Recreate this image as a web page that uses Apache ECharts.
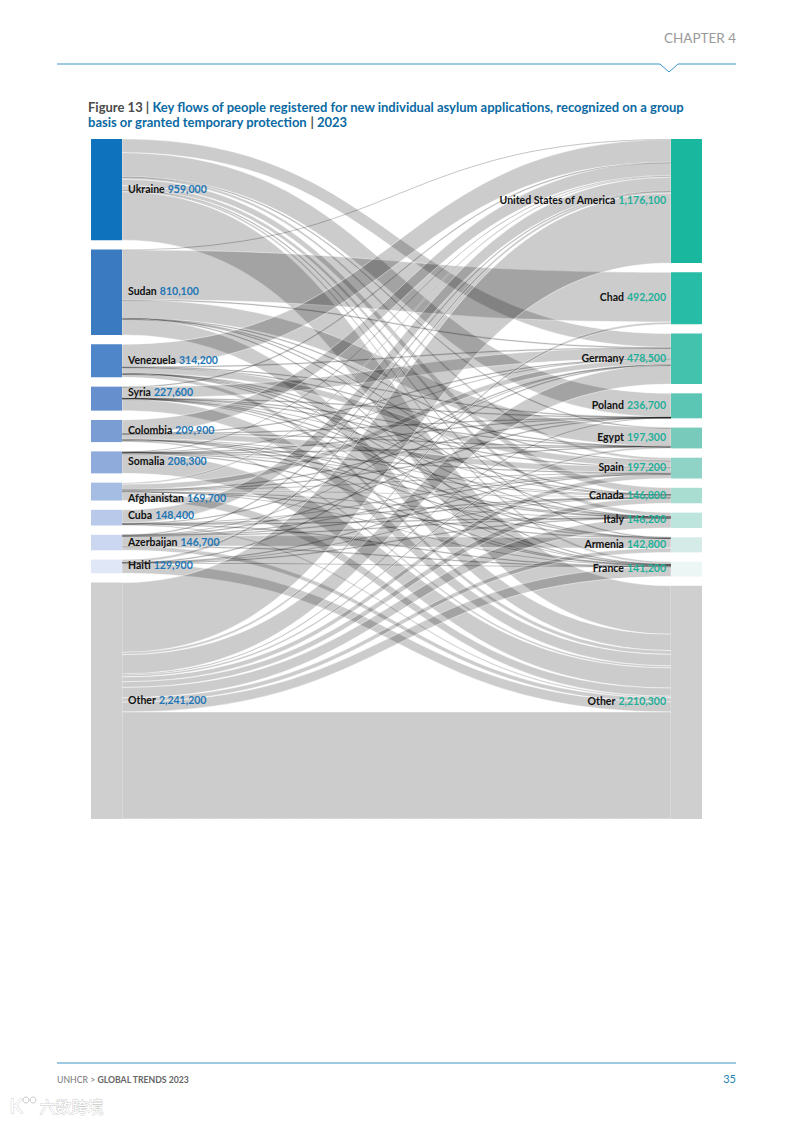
<!DOCTYPE html>
<html>
<head>
<meta charset="utf-8">
<title>Figure 13</title>
<script src="https://cdn.jsdelivr.net/npm/echarts@6/dist/echarts.min.js"></script>
<style>
  html, body { margin: 0; padding: 0; background: #fff; }
  #main { width: 793px; height: 1122px; }
</style>
</head>
<body>
<div id="main"></div>
<script>
// origin and asylum countries with the totals printed on the chart
const origins = ['Ukraine', 'Sudan', 'Venezuela', 'Syria', 'Colombia', 'Somalia', 'Afghanistan', 'Cuba', 'Azerbaijan', 'Haiti', 'Other']
const originTotals = [959000, 810100, 314200, 227600, 209900, 208300, 169700, 148400, 146700, 129900, 2241200]
const asylums = ['United States of America', 'Chad', 'Germany', 'Poland', 'Egypt', 'Spain', 'Canada', 'Italy', 'Armenia', 'France', 'Other']
const asylumTotals = [1176100, 492200, 478500, 236700, 197300, 197200, 146800, 146200, 142800, 141200, 2210300]

const originColors = ['#0e72bd', '#3a7ac1', '#4f85c9', '#668fce', '#7a9dd3', '#8fabdb', '#a5bce3', '#b8c9ea', '#cbd6f0', '#e0e7f6', '#cfcfcf']
const asylumColors = ['#18b79e', '#26bca5', '#43c2ae', '#5cc6b4', '#78cbbb', '#8ed3c6', '#a9ddd2', '#bee5dd', '#d4ebe7', '#ecf6f4', '#cfcfcf']

// flows per origin, estimated from band widths, in asylums order
const ukraineFlows = [0, 0, 130000, 225000, 500, 25000, 60800, 36800, 600, 21200, 459100]
const sudanFlows = [5000, 470000, 1000, 0, 175000, 500, 1200, 800, 0, 1500, 155100]
const venezuelaFlows = [213000, 0, 1000, 200, 200, 60000, 2000, 1000, 200, 1000, 35600]
const syriaFlows = [2000, 0, 105000, 400, 1000, 1000, 3000, 1000, 500, 5000, 108700]
const colombiaFlows = [125000, 0, 1000, 200, 200, 55000, 5000, 2000, 100, 2000, 19400]
const somaliaFlows = [3000, 0, 5000, 200, 500, 600, 4000, 2000, 0, 2000, 191000]
const afghanistanFlows = [15000, 0, 50000, 600, 300, 3000, 12000, 3000, 300, 8000, 77500]
const cubaFlows = [125000, 0, 700, 0, 0, 6000, 1000, 400, 0, 600, 14700]
const azerbaijanFlows = [600, 0, 3000, 200, 0, 200, 1000, 300, 100000, 2000, 39400]
const haitiFlows = [25000, 0, 300, 0, 0, 1000, 3000, 500, 0, 5000, 95100]
const otherFlows = [662500, 22200, 181500, 9900, 19600, 44900, 53800, 98400, 41100, 92900, 1014500]

const flowRows = [ukraineFlows, sudanFlows, venezuelaFlows, syriaFlows, colombiaFlows, somaliaFlows,
  afghanistanFlows, cubaFlows, azerbaijanFlows, haitiFlows, otherFlows]

// labels that do not sit on the middle of their node
const originLabelShift = [-1, -1, -1, -7, -1, -1, 6, -3, -1, -1, -1]

const fontName = 'Lato'

const myChart = echarts.init(document.getElementById('main'), null, { renderer: 'svg' })

const fmt = (v) => v.toLocaleString('en-US')

const nodes = []
origins.forEach((name, i) => {
  nodes.push({
    id: 'o' + i,
    name: name,
    value: originTotals[i],
    depth: 0,
    itemStyle: { color: originColors[i], borderWidth: 0 },
    label: {
      position: 'right',
      distance: 6,
      offset: [0, originLabelShift[i]],
      formatter: '{n|' + name + '} {b|' + fmt(originTotals[i]) + '}'
    }
  })
})
asylums.forEach((name, i) => {
  nodes.push({
    id: 'a' + i,
    name: name,
    value: asylumTotals[i],
    depth: 1,
    itemStyle: { color: asylumColors[i], borderWidth: 0 },
    label: {
      position: 'left',
      distance: 5,
      offset: [0, -1],
      formatter: '{n|' + name + '} {g|' + fmt(asylumTotals[i]) + '}'
    }
  })
})

const links = []
flowRows.forEach((row, i) => {
  row.forEach((v, j) => {
    if (!v) return
    // big bands carry a white edge, tiny flows read as grey hairlines
    let style = { color: 'rgba(0,0,0,0.2)', opacity: 1, borderColor: 'rgba(255,255,255,0.75)', borderWidth: 0.6 }
    if (v < 3000) style = { color: 'rgba(0,0,0,0.25)', opacity: 1, borderColor: 'rgba(40,40,40,0.3)', borderWidth: 0.25 }
    else if (v < 12000) style = { color: 'rgba(0,0,0,0.23)', opacity: 1, borderWidth: 0 }
    links.push({ source: 'o' + i, target: 'a' + j, value: v, lineStyle: style })
  })
})

const option = {
  animation: false,
  backgroundColor: '#fff',
  title: {
    left: 83,
    top: 94,
    text: '{a|Figure 13 | }{c|Key flows of people registered for new individual asylum applications, recognized on a group}\n{c|basis or granted temporary protection }{a|| }{c|2023}',
    textStyle: {
      rich: {
        a: { fontFamily: fontName, fontSize: 13, color: '#4a4a4a', lineHeight: 15 },
        c: { fontFamily: fontName, fontSize: 13, fontWeight: 'bold', color: '#0b6aa3', lineHeight: 15 }
      }
    }
  },
  series: [{
    type: 'sankey',
    left: 91,
    right: 91,
    top: 139,
    bottom: 303,
    nodeWidth: 31,
    nodeGap: 9.3,
    layoutIterations: 0,
    draggable: false,
    emphasis: { disabled: true },
    data: nodes,
    links: links,
    lineStyle: { curveness: 0.5 },
    label: {
      show: true,
      fontFamily: fontName,
      rich: {
        n: { fontFamily: fontName, fontSize: 10.5, fontWeight: 'bold', color: '#111' },
        b: { fontFamily: fontName, fontSize: 10.5, fontWeight: 'bold', color: '#1f76b5' },
        g: { fontFamily: fontName, fontSize: 10.5, fontWeight: 'bold', color: '#22b09a' }
      }
    }
  }],
  graphic: [
    { type: 'text', right: 57, top: 31, style: { text: 'CHAPTER 4', fontFamily: fontName, fontSize: 13.5, fill: '#9a9a9a' } },
    { type: 'polyline', shape: { points: [[57, 64], [660, 64], [669, 72], [678, 64], [736, 64]] }, style: { stroke: '#3a97c4', lineWidth: 1, fill: 'none' } },
    { type: 'line', shape: { x1: 57, y1: 1063, x2: 736, y2: 1063 }, style: { stroke: '#3a97c4', lineWidth: 1 } },
    { type: 'text', left: 57, top: 1075, style: { rich: {
      a: { fontFamily: fontName, fontSize: 8.7, fill: '#777' },
      c: { fontFamily: fontName, fontSize: 8.7, fontWeight: 'bold', fill: '#666' }
    }, text: '{a|UNHCR > }{c|GLOBAL TRENDS 2023}' } },
    { type: 'text', right: 57, top: 1073, style: { text: '35', fontFamily: fontName, fontSize: 11, fill: '#1f7fae' } },
    // watermark
    { type: 'text', left: 39, top: 1098, style: { text: '六数跨境', fontFamily: 'Noto Sans CJK SC', fontSize: 16, fill: '#fff', stroke: '#c9c9c9', lineWidth: 0.8 } },
    { type: 'text', left: 9, top: 1095, style: { text: 'K', fontFamily: fontName, fontSize: 20, fill: '#fff', stroke: '#c9c9c9', lineWidth: 0.8 } },
    { type: 'circle', shape: { cx: 26, cy: 1100, r: 3 }, style: { fill: 'none', stroke: '#c9c9c9', lineWidth: 1 } },
    { type: 'circle', shape: { cx: 33, cy: 1100, r: 3 }, style: { fill: 'none', stroke: '#c9c9c9', lineWidth: 1 } }
  ]
}

option && myChart.setOption(option)
</script>
</body>
</html>
